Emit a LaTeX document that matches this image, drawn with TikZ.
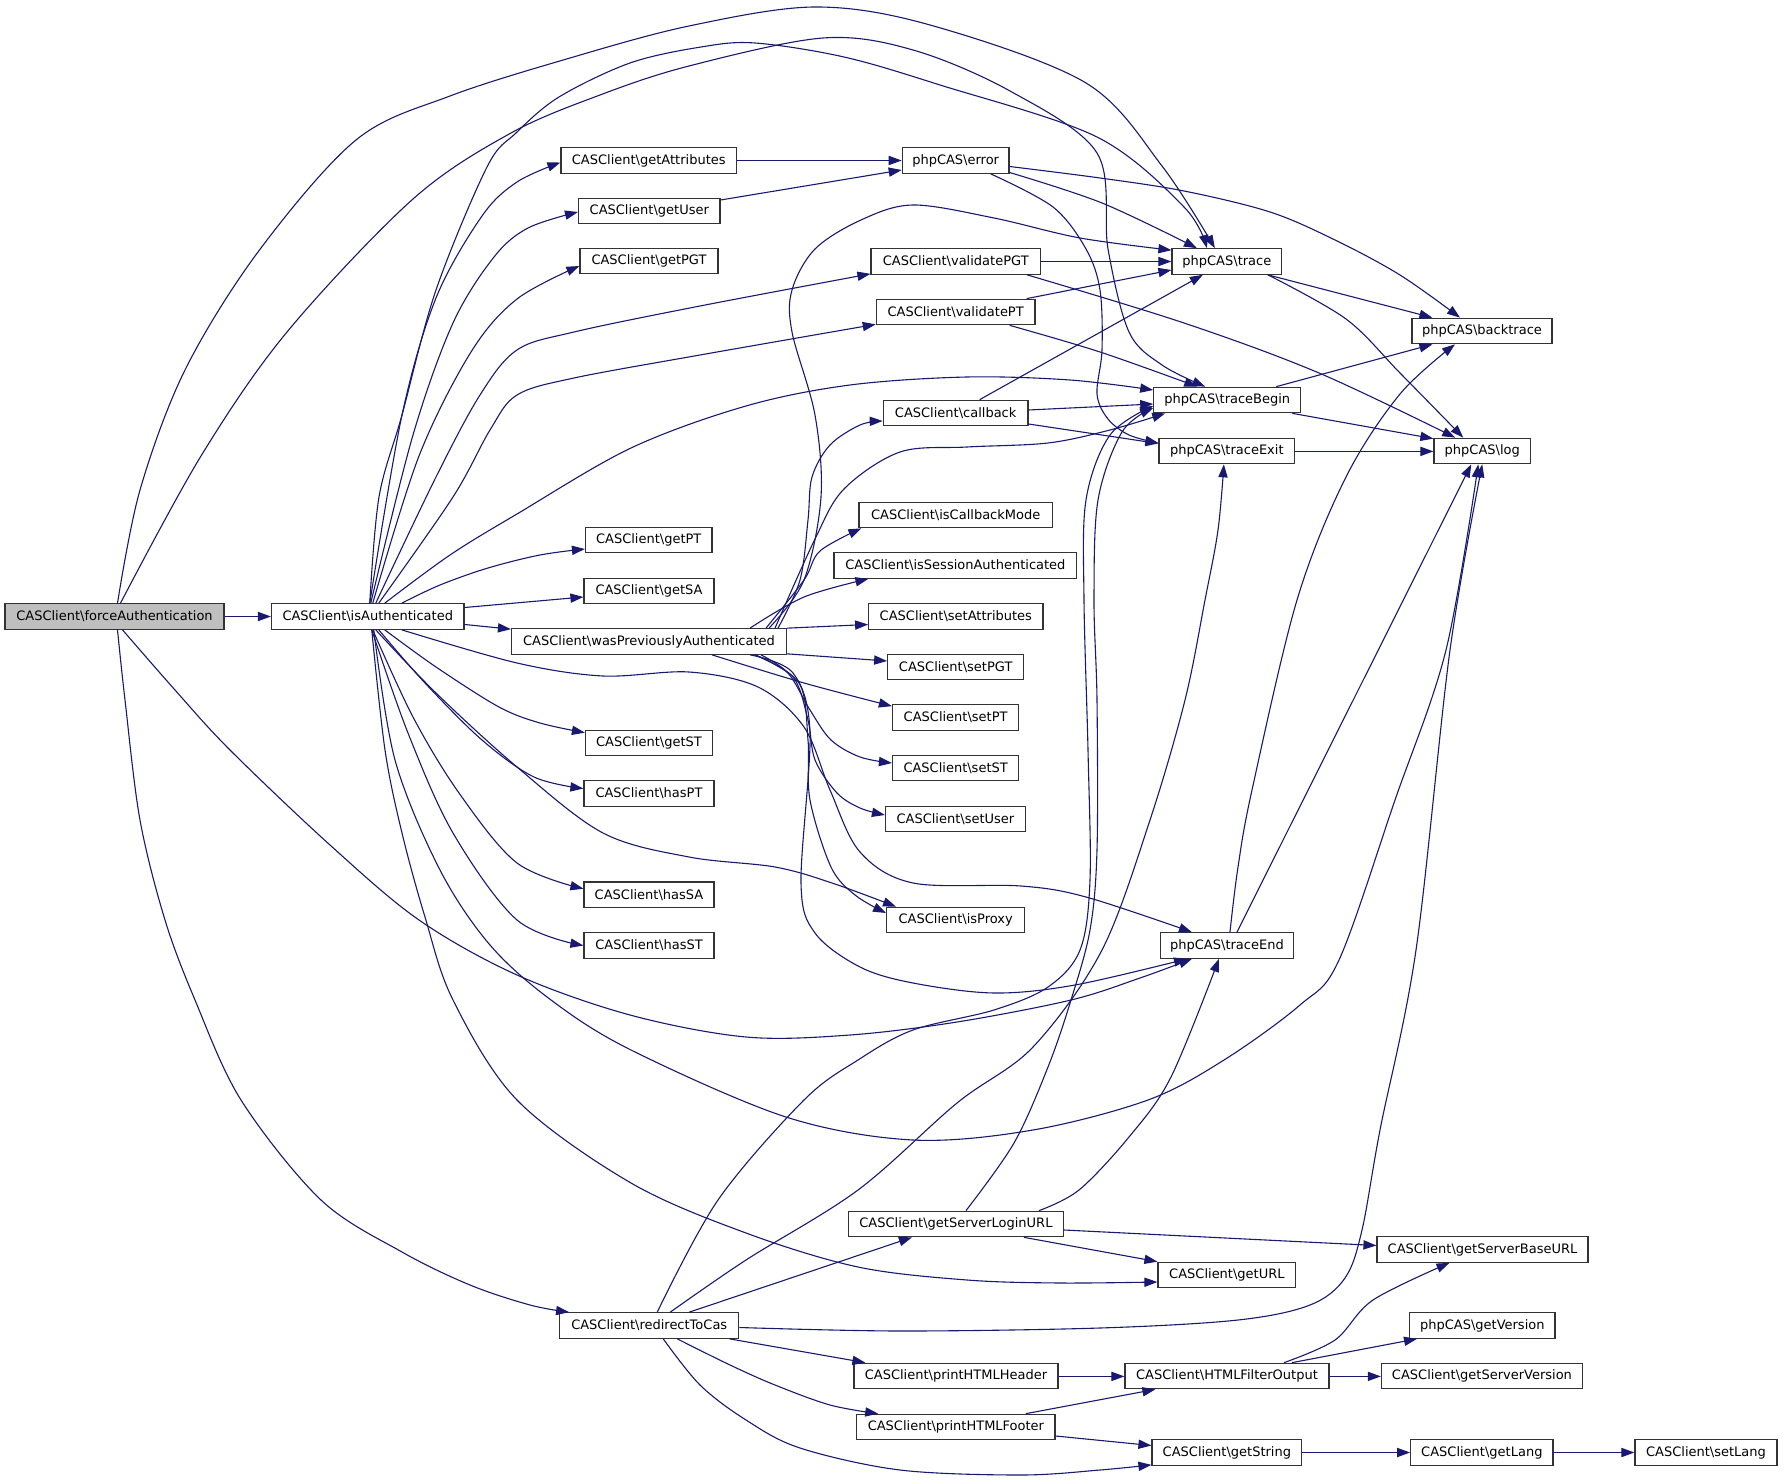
\documentclass[tikz,border=0pt]{standalone}
\usepackage{fontspec}
\newfontfamily\dvs{DejaVu Sans}
\usetikzlibrary{arrows.meta,calc}
\definecolor{edgec}{HTML}{191970}
\newcommand\CCn{CASClient\textbackslash}
\newcommand\PCn{phpCAS\textbackslash}
\begin{document}
\begin{tikzpicture}[x=0.5pt,y=-0.5pt,
 box/.style={draw=black!80, fill=white, line width=0.6pt, minimum height=12.75pt, inner sep=0pt, font=\dvs\fontsize{6.5}{7.8}\selectfont},
 edg/.style={draw=edgec, line width=0.55pt, -{Triangle[length=6.5pt,width=4.6pt]}},
 sm/.style={smooth, tension=0.55}]
\fill[white] (0,0) rectangle (1783,1481);
\useasboundingbox (0,0) rectangle (1783,1481);
% nodes
\node[box,fill=gray!50,minimum width=109.5pt] (fa) at (114.5,616.5) {\CCn forceAuthentication};
\node[box,minimum width=96.25pt] (isA) at (367.75,616.5) {\CCn isAuthenticated};
\node[box,minimum width=87.75pt] (gAttr) at (648.75,160.5) {\CCn getAttributes};
\node[box,minimum width=70.7pt] (gUser) at (649.3,211) {\CCn getUser};
\node[box,minimum width=69pt] (gPGT) at (649,261) {\CCn getPGT};
\node[box,minimum width=84.75pt] (vPGT) at (955.75,261.5) {\CCn validatePGT};
\node[box,minimum width=79.35pt] (vPT) at (955.65,312) {\CCn validatePT};
\node[box,minimum width=53.35pt] (err) at (955.65,160.5) {\PCn error};
\node[box,minimum width=54.85pt] (trace) at (1226.85,261.5) {\PCn trace};
\node[box,minimum width=70pt] (bt) at (1482,331) {\PCn backtrace};
\node[box,minimum width=73.45pt] (tB) at (1227.25,400) {\PCn traceBegin};
\node[box,minimum width=72.35pt] (cb) at (955.65,413) {\CCn callback};
\node[box,minimum width=67.85pt] (tX) at (1226.85,451) {\PCn traceExit};
\node[box,minimum width=48.25pt] (log) at (1482.25,451) {\PCn log};
\node[box,minimum width=96.7pt] (isCB) at (955.7,515) {\CCn isCallbackMode};
\node[box,minimum width=121.4pt] (isSA) at (955.4,565.5) {\CCn isSessionAuthenticated};
\node[box,minimum width=63.25pt] (gPT) at (648.75,540) {\CCn getPT};
\node[box,minimum width=65pt] (gSA) at (649,591) {\CCn getSA};
\node[box,minimum width=137.5pt] (wPA) at (649,641.5) {\CCn wasPreviouslyAuthenticated};
\node[box,minimum width=87.15pt] (sAttr) at (955.85,616.5) {\CCn setAttributes};
\node[box,minimum width=68pt] (sPGT) at (955.7,667) {\CCn setPGT};
\node[box,minimum width=63.15pt] (sPT) at (955.65,717.5) {\CCn setPT};
\node[box,minimum width=63.15pt] (sST) at (955.65,768) {\CCn setST};
\node[box,minimum width=69.9pt] (sUser) at (955.4,819) {\CCn setUser};
\node[box,minimum width=63.5pt] (gST) at (649,743) {\CCn getST};
\node[box,minimum width=65pt] (hPT) at (649,793.5) {\CCn hasPT};
\node[box,minimum width=65pt] (hSA) at (649,894.7) {\CCn hasSA};
\node[box,minimum width=65pt] (hST) at (649,945.5) {\CCn hasST};
\node[box,minimum width=69.1pt] (isP) at (955.7,920) {\CCn isProxy};
\node[box,minimum width=66.65pt] (tE) at (1226.95,945.5) {\PCn traceEnd};
\node[box,minimum width=107.35pt] (gSLU) at (955.95,1224) {\CCn getServerLoginURL};
\node[box,minimum width=105.5pt] (gSBU) at (1482.5,1249.5) {\CCn getServerBaseURL};
\node[box,minimum width=68.9pt] (gURL) at (1226.9,1275) {\CCn getURL};
\node[box,minimum width=89.55pt] (rTC) at (649.25,1325.5) {\CCn redirectToCas};
\node[box,minimum width=72.7pt] (gVer) at (1482.3,1325.5) {\PCn getVersion};
\node[box,minimum width=101.95pt] (pH) at (955.95,1376) {\CCn printHTMLHeader};
\node[box,minimum width=101.95pt] (HFO) at (1226.95,1376) {\CCn HTMLFilterOutput};
\node[box,minimum width=100.55pt] (gSV) at (1481.95,1376) {\CCn getServerVersion};
\node[box,minimum width=99.1pt] (pF) at (955.9,1427) {\CCn printHTMLFooter};
\node[box,minimum width=74.9pt] (gStr) at (1226.9,1452.5) {\CCn getString};
\node[box,minimum width=71.15pt] (gLang) at (1481.85,1452.5) {\CCn getLang};
\node[box,minimum width=71pt] (sLang) at (1706,1452.5) {\CCn setLang};
% edges from forceAuthentication
\draw[edg] (fa.east) -- (isA.west);
\draw[edg] plot[sm] coordinates {($(fa.north)+(3,0)$) (140,490) (185,370) (258,252) (356,140) (450,96) (570,58) (689,26) (815,7) (930,25) (1086,83) (1162,166) ($(trace.north)+(-12,0)$)};
\draw[edg] plot[sm] coordinates {($(fa.north)+(6,0)$) (201,456) (287,332) (413,199) (511,133) (600,95) (689,66) (823,38) (913,50) (1010,91) (1097,153) (1108,249) (1129,332) (1162,365) ($(tB.north)+(-22,0)$)};
\draw[edg] plot[sm] coordinates {($(fa.south)+(3,0)$) (125,700) (140,820) (165,920) (195,1000) (241,1100) (321,1200) (402,1252) (470,1285) (530,1305) ($(rTC.north west)+(10,0)$)};
\draw[edg] plot[sm] coordinates {($(fa.south)+(8,0)$) (175,690) (230,750) (330,845) (419,920) (517,975) (630,1015) (746,1037) (850,1035) (957,1022) (1071,1000) (1140,978) ($(tE.south)+(-35,0)$)};
% edges from isAuthenticated
\draw[edg] plot[sm] coordinates {($(isA.north)+(2,0)$) (379,497) (402,415) (436,290) (487,167) (516,133) (559,97) (630,63) (701,47) (755,43) (844,57) (940,85) (1097,137) (1184,207) ($(trace.north)+(-20,0)$)};
\draw[edg] plot[sm] coordinates {($(isA.north)+(2,0)$) (402,415) (436,298) (482,216) (517,182) ($(gAttr.west)+(0,2)$)};
\draw[edg] plot[sm] coordinates {($(isA.north)+(3,0)$) (413,435) (453,323) (494,257) (528,228) ($(gUser.west)+(0,1)$)};
\draw[edg] plot[sm] coordinates {($(isA.north)+(5,0)$) (419,456) (471,352) (517,299) ($(gPGT.west)+(0,5)$)};
\draw[edg] plot[sm] coordinates {($(isA.north)+(8,0)$) (436,477) (480,395) (517,350) (574,332) (700,306) ($(vPGT.south west)+(0,-1)$)};
\draw[edg] plot[sm] coordinates {($(isA.north)+(11,0)$) (453,497) (490,430) (517,395) (574,378) (700,355) ($(vPT.south west)+(0,-1)$)};
\draw[edg] plot[sm] coordinates {($(isA.north)+(17,0)$) (450,555) (517,514) (631,448) (746,406) (850,385) (967,377) (1070,380) ($(tB.west)+(0,-10)$)};
\draw[edg] plot[sm] coordinates {($(isA.north)+(34,0)$) (440,585) (488,568) (540,555) ($(gPT.west)+(0,9)$)};
\draw[edg] ($(isA.east)+(0,-9)$) -- ($(gSA.west)+(0,6)$);
\draw[edg] ($(isA.east)+(0,8)$) -- ($(wPA.north west)+(0,1)$);
\draw[edg] plot[sm] coordinates {($(isA.south)+(17,0)$) (436,667) (499,707) (540,723) ($(gST.north west)+(0,3)$)};
\draw[edg] plot[sm] coordinates {($(isA.south)+(11,0)$) (425,683) (482,740) (534,777) ($(hPT.west)+(0,-5)$)};
\draw[edg] plot[sm] coordinates {($(isA.south)+(5,0)$) (413,717) (459,793) (517,863) ($(hSA.west)+(0,-6)$)};
\draw[edg] plot[sm] coordinates {($(isA.south)+(4,0)$) (408,733) (453,833) (517,920) (hST.west)};
\draw[edg] plot[sm] coordinates {($(isA.south)+(8,0)$) (436,693) (517,767) (603,833) (689,857) (775,867) (832,883) ($(isP.north west)+(10,0)$)};
\draw[edg] plot[sm] coordinates {($(isA.south)+(34,0)$) (517,663) (603,676) (689,672) (758,687) (804,727) (830,790) (860,852) (913,883) (1021,886) (1086,897) ($(tE.north)+(-35,0)$)};
\draw[edg] plot[sm] coordinates {($(isA.south)+(4,0)$) (385,750) (402,833) (425,917) (453,1000) (517,1100) (631,1183) (746,1233) (858,1267) (967,1280) (1060,1283) ($(gURL.west)+(0,7)$)};
\draw[edg] plot[sm] coordinates {($(isA.south)+(6,0)$) (395,760) (440,870) (490,945) (551,1000) (631,1050) (786,1117) (913,1140) (1033,1130) (1148,1100) (1224,1060) (1300,1005) (1339,960) (1395,800) (1446,650) ($(log.south)+(-4,0)$)};
% wasPreviouslyAuthenticated
\draw[edg] plot[sm] coordinates {($(wPA.north)+(120,0)$) (804,580) (821,497) (815,415) (792,332) (792,290) (815,249) (861,220) (913,205) (994,218) (1080,238) ($(trace.north west)+(0,2)$)};
\draw[edg] plot[sm] coordinates {($(wPA.north)+(129,0)$) (800,580) (808,520) (812,477) (830,445) (860,425) ($(cb.west)+(0,8)$)};
\draw[edg] plot[sm] coordinates {($(wPA.north)+(126,0)$) (815,539) (844,489) (900,452) (967,447) (1048,443) (1110,430) ($(tB.south west)+(12,0)$)};
\draw[edg] plot[sm] coordinates {($(wPA.north)+(117,0)$) (804,580) (820,551) ($(isCB.south west)+(3,0)$)};
\draw[edg] plot[sm] coordinates {($(wPA.north)+(101,0)$) (804,597) ($(isSA.south west)+(35,0)$)};
\draw[edg] (wPA.north east) -- ($(sAttr.west)+(0,8)$);
\draw[edg] ($(wPA.south east)+(0,-1)$) -- ($(sPGT.west)+(0,-6)$);
\draw[edg] plot[sm] coordinates {($(wPA.south)+(63,0)$) (804,683) ($(sPT.north west)+(0,2)$)};
\draw[edg] plot[sm] coordinates {($(wPA.south)+(112,0)$) (788,673) (810,710) (831,740) (860,757) ($(sST.west)+(0,-5)$)};
\draw[edg] plot[sm] coordinates {($(wPA.south)+(106,0)$) (793,677) (808,720) (815,760) (837,793) (860,808) ($(sUser.west)+(0,-4)$)};
\draw[edg] plot[sm] coordinates {($(wPA.south)+(106,0)$) (799,683) (808,740) (810,800) (831,867) (855,895) ($(isP.west)+(0,-7)$)};
\draw[edg] plot[sm] coordinates {($(wPA.south)+(101,0)$) (793,673) (810,733) (801,883) (815,933) (860,967) (913,983) (994,993) (1075,985) ($(tE.south)+(-40,0)$)};
% error, getters
\draw[edg] (gAttr.east) -- (err.west);
\draw[edg] ($(gUser.east)+(0,-11)$) -- ($(err.west)+(0,9.5)$);
\draw[edg] plot[sm] coordinates {($(err.east)+(0,12)$) (1102,203) ($(trace.north)+(-30,0)$)};
\draw[edg] plot[sm] coordinates {($(err.east)+(0,6)$) (1100,178) (1184,191) (1270,212) (1335,240) (1400,275) ($(bt.north)+(-22,0)$)};
\draw[edg] plot[sm] coordinates {($(err.south)+(35,0)$) (1053,207) (1086,249) (1100,290) (1102,350) (1097,394) (1108,419) (1129,435) ($(tX.west)+(0,-8)$)};
% validate
\draw[edg] (vPGT.east) -- (trace.west);
\draw[edg] plot[sm] coordinates {($(vPGT.south east)+(-14,0)$) (1184,323) (1319,373) ($(log.north)+(-27,0)$)};
\draw[edg] ($(vPT.north east)+(-9,0)$) -- ($(trace.west)+(0,8.5)$);
\draw[edg] plot[sm] coordinates {($(vPT.south)+(54,0)$) (1100,352) ($(tB.north)+(-30,0)$)};
% callback
\draw[edg] ($(cb.north)+(24,0)$) -- ($(trace.south)+(-24,0)$);
\draw[edg] ($(cb.east)+(0,-3)$) -- ($(tB.west)+(0,4)$);
\draw[edg] ($(cb.east)+(0,11)$) -- ($(tX.west)+(0,-7.5)$);
% phpCAS internals
\draw[edg] ($(trace.south)+(41,0)$) -- ($(bt.north west)+(21,0)$);
\draw[edg] plot[sm] coordinates {($(trace.south)+(41,0)$) (1346,319) (1400,373) ($(log.north)+(-19,0)$)};
\draw[edg] ($(tB.north)+(49,0)$) -- ($(bt.south west)+(21,0)$);
\draw[edg] ($(tB.south east)+(-9,0)$) -- ($(log.north west)+(0,1)$);
\draw[edg] ($(tX.east)+(0,0.4)$) -- ($(log.west)+(0,0.4)$);
\draw[edg] plot[sm] coordinates {($(tE.north)+(3,0)$) (1238,867) (1252,790) (1297,600) (1346,477) (1400,394) ($(bt.south)+(-27,0)$)};
\draw[edg] ($(tE.north)+(10,0)$) -- ($(log.south)+(-11,0)$);
% redirectToCas
\draw[edg] plot[sm] coordinates {($(rTC.north)+(8,0)$) (718,1200) (804,1100) (858,1060) (913,1030) (994,1010) (1048,987) (1080,950) (1090,880) (1088,750) (1084,600) (1086,500) (1110,435) ($(tB.west)+(0,6)$)};
\draw[edg] plot[sm] coordinates {($(rTC.north)+(21,0)$) (746,1260) (858,1190) (957,1103) (1033,1047) (1102,950) (1150,820) (1185,700) (1205,600) (1218,530) ($(tX.south)+(-3,0)$)};
\draw[edg] ($(rTC.north)+(40,0)$) -- ($(gSLU.south)+(-44,0)$);
\draw[edg] plot[sm] coordinates {($(rTC.east)+(0,2)$) (900,1331) (1100,1328) (1238,1320) (1310,1305) (1345,1278) (1362,1230) (1380,1130) (1416,950) (1450,650) ($(log.south)+(0,0)$)};
\draw[edg] ($(rTC.south east)+(-10,0)$) -- ($(pH.north west)+(12,0)$);
\draw[edg] plot[sm] coordinates {($(rTC.south)+(28,0)$) (730,1365) (775,1385) (830,1405) ($(pF.north west)+(22,0)$)};
\draw[edg] plot[sm] coordinates {($(rTC.south)+(14,0)$) (700,1385) (746,1420) (800,1448) (900,1470) (1021,1475) (1100,1470) ($(gStr.south west)+(0,-1)$)};
% getServerLoginURL
\draw[edg] plot[sm] coordinates {($(gSLU.north)+(10,0)$) (1014,1143) (1048,1067) (1071,1000) (1090,930) (1097,850) (1097,700) (1094,600) (1098,500) (1122,432) ($(tB.west)+(0,8)$)};
\draw[edg] plot[sm] coordinates {($(gSLU.north)+(83,0)$) (1079,1190) (1129,1137) (1171,1077) ($(tE.south)+(-8,0)$)};
\draw[edg] ($(gSLU.east)+(0,6)$) -- ($(gSBU.west)+(0,-4)$);
\draw[edg] ($(gSLU.south)+(68,0)$) -- (gURL.north west);
% HTML
\draw[edg] ($(pH.east)+(0,0.4)$) -- ($(HFO.west)+(0,0.4)$);
\draw[edg] ($(pF.north)+(70,0)$) -- ($(HFO.south west)+(31,0)$);
\draw[edg] ($(pF.east)+(0,9)$) -- ($(gStr.west)+(0,-7)$);
\draw[edg] plot[sm] coordinates {($(HFO.north)+(57,0)$) (1335,1340) (1373,1300) ($(gSBU.south)+(-33,0)$)};
\draw[edg] ($(HFO.north)+(65,0)$) -- ($(gVer.south west)+(8,0)$);
\draw[edg] ($(HFO.east)+(0,0.4)$) -- ($(gSV.west)+(0,0.4)$);
\draw[edg] (gStr.east) -- (gLang.west);
\draw[edg] (gLang.east) -- (sLang.west);
\end{tikzpicture}
\end{document}
